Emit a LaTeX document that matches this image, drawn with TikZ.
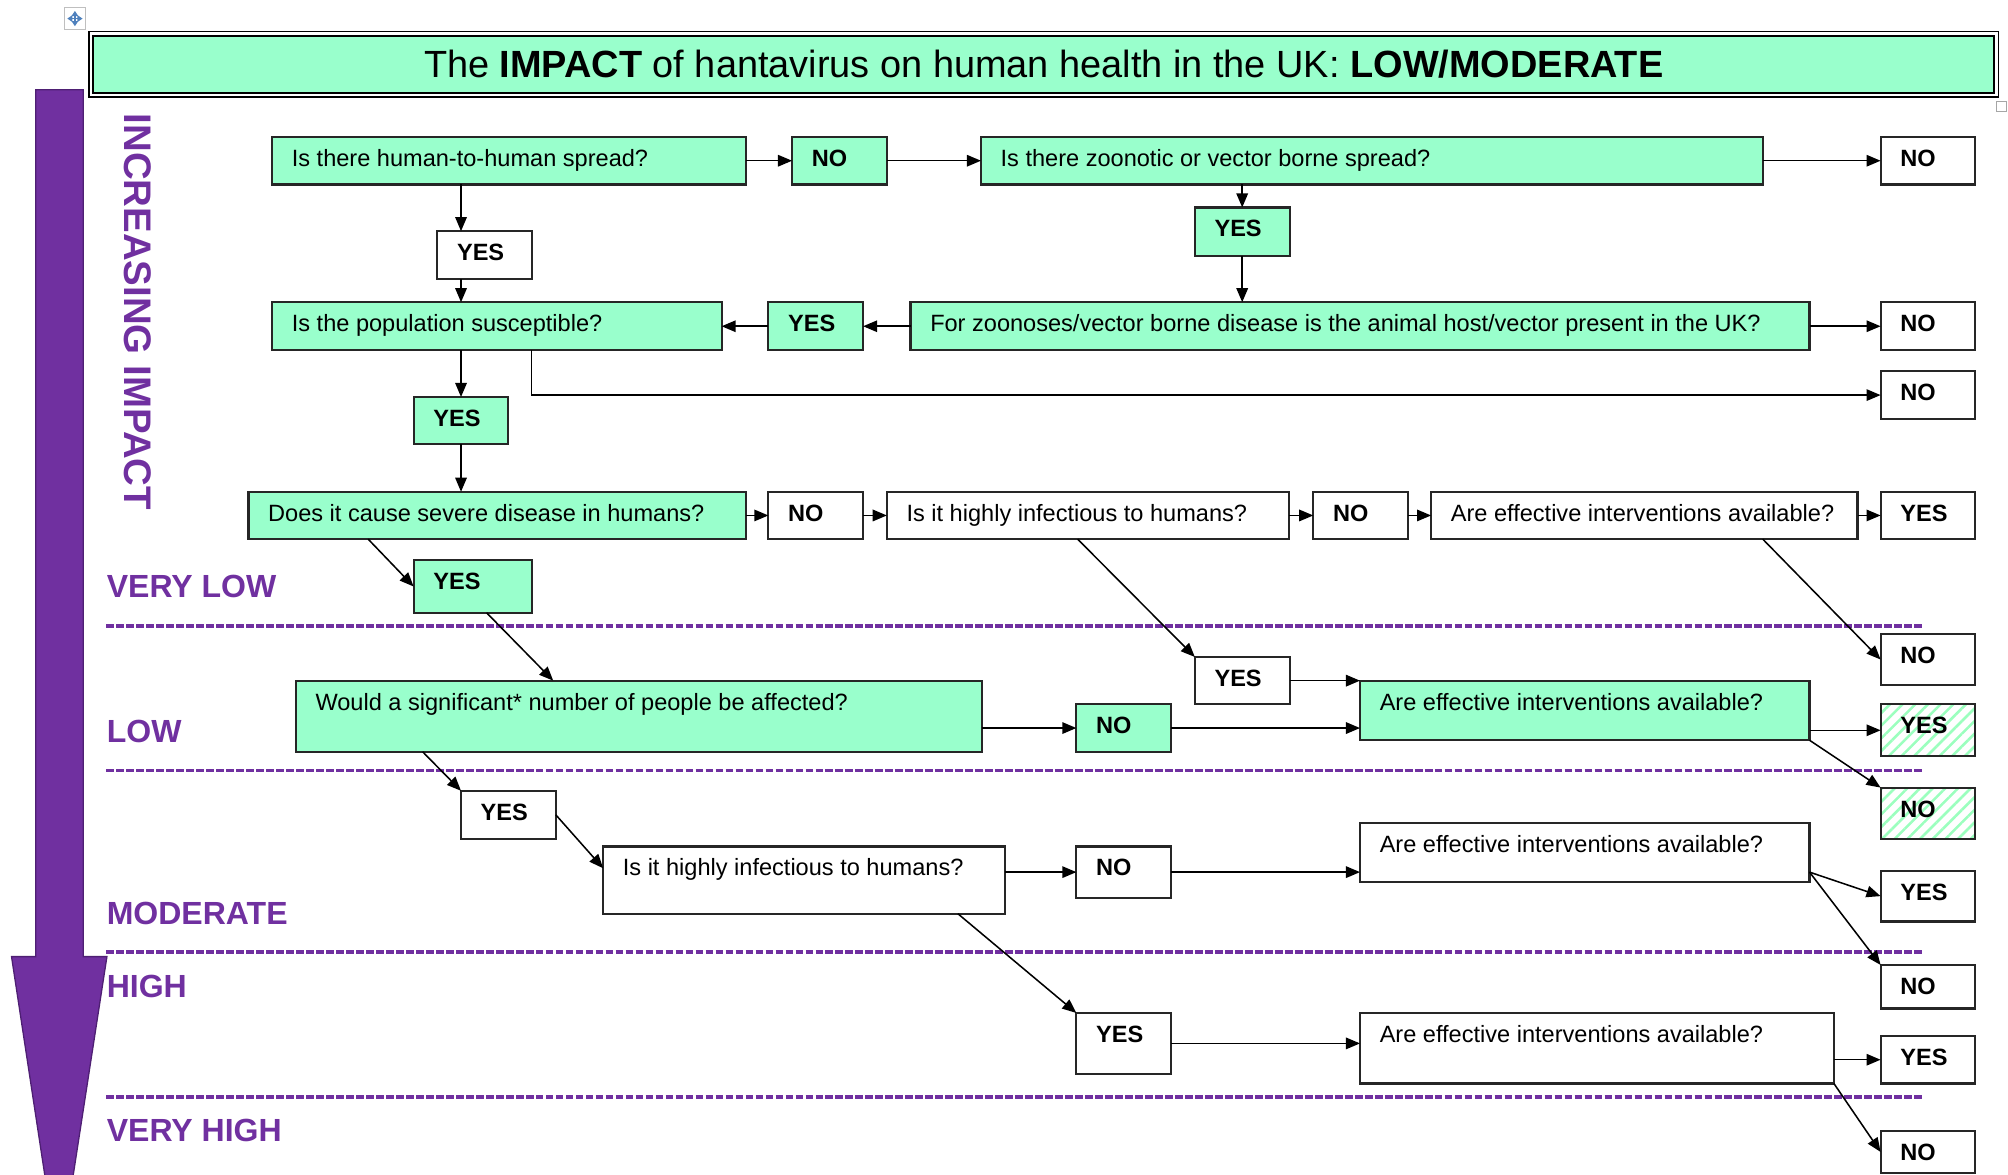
\documentclass[tikz,border=0pt]{standalone}
\usepackage{fontspec}
\setmainfont{Liberation Sans}
\usetikzlibrary{calc,arrows.meta,patterns.meta}

\definecolor{mintgreen}{HTML}{99FFCC}
\definecolor{impact}{HTML}{7030A0}
\definecolor{impactdark}{HTML}{4E1F73}
\definecolor{handleblue}{HTML}{4F81BD}

\tikzset{
 qframe/.style={draw=black!85,line width=0.85pt,inner sep=0pt,outer sep=0pt},
 mint/.style={fill=mintgreen},
 hatch/.style={pattern={Lines[angle=45,distance=3.5pt,line width=1pt]},pattern color=mintgreen!85!green!80!white},
 qtext/.style={inner sep=0pt,font=\fontsize{9.2}{11}\selectfont},
 arr/.style={-{Triangle[length=5.5pt,width=4.5pt]},line width=0.6pt},
 level/.style={inner sep=0pt,anchor=west,text=impact,font=\fontsize{12.5}{14}\selectfont\bfseries},
 levelline/.style={draw=impact,line width=1.4pt,dash pattern=on 3pt off 0.9pt}
}

\begin{document}
\begin{tikzpicture}[x=0.5pt,y=-0.5pt]

\newcommand{\qbox}[7][]% [style]{name}{x1}{y1}{x2}{y2}{text}
{
 \pgfmathsetmacro{\boxw}{(#5-#3)/2}
 \pgfmathsetmacro{\boxh}{(#6-#4)/2}
 \node[qframe,#1,minimum width=\boxw pt,minimum height=\boxh pt,anchor=north west] (#2) at (#3,#4) {};
 \node[qtext,anchor=base west] (#2t) at ($(#2.north west)+(15,23)$) {#7};
}

\clip (0,0) rectangle (1568,917);

% handle marks
\draw[gray!50,line width=0.4pt] (50,6) rectangle (67,23);
\draw[handleblue,line width=0.7pt,{Triangle[length=2pt,width=2.5pt]}-{Triangle[length=2pt,width=2.5pt]}] (52.5,14.5) -- (64.5,14.5);
\draw[handleblue,line width=0.7pt,{Triangle[length=2pt,width=2.5pt]}-{Triangle[length=2pt,width=2.5pt]}] (58.5,8.5) -- (58.5,20.5);
\draw[gray!70,line width=0.4pt] (1559,79) rectangle (1567,87);

% title
\node[draw=black,line width=0.6pt,double=white,double distance=1pt,fill=mintgreen,
 minimum width=743.8pt,minimum height=24pt,inner sep=0pt,
 font=\fontsize{14.8}{17}\selectfont] (title) at (815,50.3)
 {The \textbf{IMPACT} of hantavirus on human health in the UK: \textbf{LOW/MODERATE}};

% impact arrow
\fill[impact,draw=impactdark,line width=0.5pt] (28,70) -- (65,70) -- (65,747) -- (83.5,747)
 -- (46,990) -- (9,747) -- (28,747) -- cycle;
\node[rotate=-90,inner sep=0pt,text=impact,font=\fontsize{15}{17}\selectfont\bfseries] (inc)
 at (107.5,243.5) {INCREASING IMPACT};

% levels
\node[level] (vlow) at (83,458) {VERY LOW};
\node[level] (low) at (83,571.5) {LOW};
\node[level] (mod) at (83,713.5) {MODERATE};
\node[level] (high) at (83,770) {HIGH};
\node[level] (vhigh) at (83,883) {VERY HIGH};
\foreach \y in {489,601.6,743.4,856.8}
 \draw[levelline] (83,\y) -- (1501,\y);

% boxes
\qbox[mint]{B1}{212.5}{107}{582.5}{144}{Is there human-to-human spread?}
\qbox[mint]{N1}{618.5}{107}{692.5}{144}{\textbf{NO}}
\qbox[mint]{B2}{766}{107}{1376.5}{144}{Is there zoonotic or vector borne spread?}
\qbox{N2}{1468.5}{107}{1542.5}{144}{\textbf{NO}}
\qbox{Y1}{341.5}{180.5}{415.5}{218}{\textbf{YES}}
\qbox[mint]{Y2}{933}{162}{1007}{200}{\textbf{YES}}
\qbox[mint]{B3}{212.5}{236}{563.5}{273.5}{Is the population susceptible?}
\qbox[mint]{Y3}{600}{236}{674}{273.5}{\textbf{YES}}
\qbox[mint]{B4}{711}{236}{1413}{273.5}{For zoonoses/vector borne disease is the animal host/vector present in the UK?}
\qbox{N3}{1468.5}{236}{1542.5}{273.5}{\textbf{NO}}
\qbox{N4}{1468.5}{290}{1542.5}{327}{\textbf{NO}}
\qbox[mint]{Y4}{323}{310}{397}{347}{\textbf{YES}}
\qbox[mint]{B5}{194}{384}{582.5}{421}{Does it cause severe disease in humans?}
\qbox{N5}{600}{384}{674}{421}{\textbf{NO}}
\qbox{B6}{692.5}{384}{1006.5}{421}{Is it highly infectious to humans?}
\qbox{N6}{1025.5}{384}{1099.5}{421}{\textbf{NO}}
\qbox{B7}{1117.5}{384}{1450.5}{421}{Are effective interventions available?}
\qbox{Y5}{1468.5}{384}{1542.5}{421}{\textbf{YES}}
\qbox[mint]{Y6}{323}{437.5}{415.5}{478.5}{\textbf{YES}}
\qbox{N8}{1468.5}{495}{1542.5}{535}{\textbf{NO}}
\qbox{Y7}{933}{513}{1007}{550}{\textbf{YES}}
\qbox[mint]{B8}{231}{531.5}{766.5}{587}{Would a significant* number of people be affected?}
\qbox[mint]{N7}{840.5}{550}{914.5}{587}{\textbf{NO}}
\qbox[mint]{B9}{1062}{531.5}{1413}{578}{Are effective interventions available?}
\qbox[hatch]{Y8}{1468.5}{550}{1542.5}{590.5}{\textbf{YES}}
\qbox[hatch]{N9}{1468.5}{615}{1542.5}{655}{\textbf{NO}}
\qbox{Y9}{360}{617.5}{434}{655}{\textbf{YES}}
\qbox{B10}{471}{661}{785}{713.5}{Is it highly infectious to humans?}
\qbox{N10}{840.5}{661}{914.5}{701}{\textbf{NO}}
\qbox{B11}{1062}{642.5}{1413}{689}{Are effective interventions available?}
\qbox{Y10}{1468.5}{680}{1542.5}{719.5}{\textbf{YES}}
\qbox{N11}{1468.5}{753.5}{1542.5}{787.5}{\textbf{NO}}
\qbox{Y11}{840.5}{791}{914.5}{838.5}{\textbf{YES}}
\qbox{B12}{1062}{791}{1432}{846}{Are effective interventions available?}
\qbox{Y12}{1468.5}{809}{1542.5}{846}{\textbf{YES}}
\qbox{N12}{1468.5}{883}{1542.5}{916}{\textbf{NO}}

% connectors
\draw[arr] (B1) -- (N1);
\draw[arr] (N1) -- (B2);
\draw[arr] (B2) -- (N2);
\draw[arr] ($(B1.south west)+(147.5,0)$) coordinate (p1) -- (p1 |- Y1.north);
\draw[arr] (p1 |- Y1.south) -- (p1 |- B3.north);
\draw[arr] ($(B2.south west)+(204,0)$) coordinate (p2) -- (p2 |- Y2.north);
\draw[arr] (p2 |- Y2.south) -- (p2 |- B4.north);
\draw[arr] (B4) -- (Y3);
\draw[arr] (Y3) -- (B3);
\draw[arr] (B4) -- (N3);
\draw[arr] ($(B3.south west)+(202.5,0)$) |- (N4);
\draw[arr] (p1 |- B3.south) -- (p1 |- Y4.north);
\draw[arr] (p1 |- Y4.south) -- (p1 |- B5.north);

\draw[arr] (B5) -- (N5);
\draw[arr] (N5) -- (B6);
\draw[arr] (B6) -- (N6);
\draw[arr] (N6) -- (B7);
\draw[arr] (B7) -- (Y5);
\draw[arr] ($(B5.south west)+(93.5,0)$) -- (Y6.west);
\draw[arr] ($(B7.south west)+(259,0)$) -- (N8.west);
\draw[arr] ($(B6.south west)+(149,0)$) -- (Y7.north west);

\draw[arr] ($(Y6.south west)+(57,0)$) -- ($(B8.north west)+(201,0)$);
\draw[arr] (B8.east |- N7) -- (N7);
\draw[arr] (N7) -- (N7 -| B9.west);
\draw[arr] (Y7.east |- B9.north west) -- (B9.north west);
\draw[arr] (B9.east |- Y8) -- (Y8);
\draw[arr] (B9.south east) -- (N9.north west);

\draw[arr] ($(B8.south west)+(99,0)$) -- (Y9.north west);
\draw[arr] (Y9.east) -- ($(B10.north west)+(0,17)$);
\draw[arr] (B10.east |- N10) -- (N10);
\draw[arr] (N10) -- (N10 -| B11.west);
\draw[arr] ($(B11.south east)+(0,-8)$) -- (Y10.west);
\draw[arr] ($(B11.south east)+(0,-8)$) -- (N11.north west);

\draw[arr] ($(B10.south west)+(277,0)$) -- (Y11.north west);
\draw[arr] (Y11) -- (Y11 -| B12.west);
\draw[arr] (B12.east |- Y12) -- (Y12);
\draw[arr] (B12.south east) -- (N12.west);

\end{tikzpicture}
\end{document}
